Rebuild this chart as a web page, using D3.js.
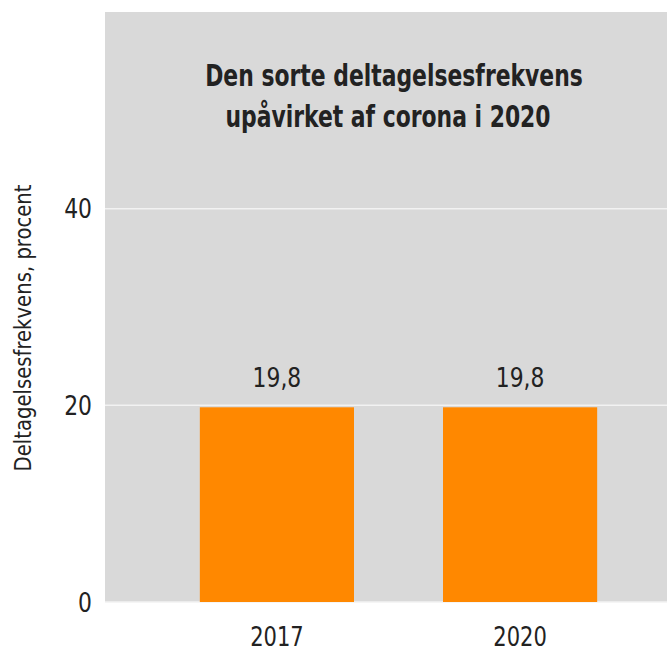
<!DOCTYPE html>
<html>
<head>
<meta charset="utf-8">
<script src="https://cdn.jsdelivr.net/npm/d3@7"></script>
<style>
  body { margin: 0; background: #fff; }
  svg text { font-family: "DejaVu Sans Condensed", "Liberation Sans Narrow", sans-serif; fill: #222; }
</style>
</head>
<body>
<div id="chart"></div>
<script>
const years = ["2017", "2020"];
const rates = [19.8, 19.8];
const rateLabels = ["19,8", "19,8"];
const yTicks = [0, 20, 40];
const titleLines = ["Den sorte deltagelsesfrekvens", "upåvirket af corona i 2020"];
const yTitle = "Deltagelsesfrekvens, procent";

const W = 667, H = 653;
const svg = d3.select("#chart").append("svg")
  .attr("width", W)
  .attr("height", H);

const panel = { left: 105, right: 692, top: 12, bottom: 602 };

const x = d3.scaleBand()
  .domain(years)
  .range([panel.left, panel.right])
  .paddingInner(0.366)
  .paddingOuter(0.39);

const y = d3.scaleLinear()
  .domain([0, 60])
  .range([panel.bottom, panel.top]);

svg.append("rect")
  .attr("x", panel.left)
  .attr("y", panel.top)
  .attr("width", panel.right - panel.left)
  .attr("height", panel.bottom - panel.top)
  .attr("fill", "#d9d9d9");

// gridlines
svg.append("g")
  .selectAll("line")
  .data(yTicks)
  .enter().append("line")
  .attr("x1", panel.left)
  .attr("x2", panel.right)
  .attr("y1", d => y(d))
  .attr("y2", d => y(d))
  .attr("stroke", "#f2f2f2")
  .attr("stroke-width", 1.5);

// y tick labels (squeezed a bit to look like the narrow face)
svg.append("g")
  .selectAll("text")
  .data(yTicks)
  .enter().append("text")
  .attr("transform", d => `translate(92,${y(d)}) scale(0.9,1)`)
  .attr("dy", "0.36em")
  .attr("text-anchor", "end")
  .style("font-size", "27px")
  .text(d => d);

// bars
svg.append("g")
  .selectAll("rect")
  .data(rates)
  .enter().append("rect")
  .attr("x", (d, i) => x(years[i]))
  .attr("y", d => y(d))
  .attr("width", x.bandwidth())
  .attr("height", d => y(0) - y(d))
  .attr("fill", "#ff8800");

// value labels
svg.append("g")
  .selectAll("text")
  .data(rates)
  .enter().append("text")
  .attr("transform", (d, i) => `translate(${x(years[i]) + x.bandwidth() / 2},${y(d) - 20}) scale(0.9,1)`)
  .attr("text-anchor", "middle")
  .style("font-size", "27px")
  .text((d, i) => rateLabels[i]);

// x labels
svg.append("g")
  .selectAll("text")
  .data(years)
  .enter().append("text")
  .attr("transform", d => `translate(${x(d) + x.bandwidth() / 2},646) scale(0.9,1)`)
  .attr("text-anchor", "middle")
  .style("font-size", "26px")
  .text(d => d);

// title
const titleX = [394, 388];
svg.append("g")
  .selectAll("text")
  .data(titleLines)
  .enter().append("text")
  .attr("transform", (d, i) => `translate(${titleX[i]},${86 + i * 41}) scale(0.785,1)`)
  .attr("text-anchor", "middle")
  .style("font-size", "31px")
  .style("font-weight", "bold")
  .text(d => d);

// y axis title
svg.append("text")
  .attr("transform", "translate(31,328) rotate(-90) scale(0.95,1)")
  .attr("text-anchor", "middle")
  .style("font-size", "23px")
  .text(yTitle);
</script>
</body>
</html>
